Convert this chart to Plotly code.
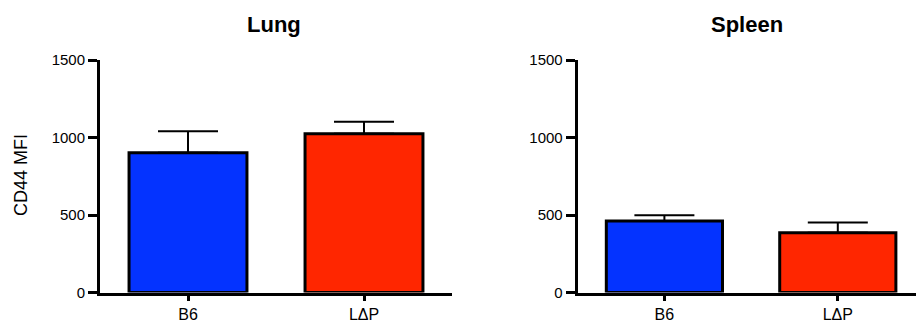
import plotly.graph_objects as go

W, H = 916, 324

categories = ["B6", "LΔP"]
lung_values = [901, 1024]
lung_sem = [139, 77]
spleen_values = [462, 385]
spleen_sem = [37, 67]
y_ticks = [0, 500, 1000, 1500]
panel_titles = ["Lung", "Spleen"]
y_title = "CD44 MFI"
colors = ["#0433FF", "#FF2600"]

FONT = "Liberation Sans, Arial, Helvetica, sans-serif"

def px_x(p):
    return p / W

def px_y(p):
    return 1 - p / H

fig = go.Figure()

for i, (vals, errs) in enumerate([(lung_values, lung_sem), (spleen_values, spleen_sem)]):
    xa = "x" if i == 0 else "x2"
    ya = "y" if i == 0 else "y2"
    fig.add_trace(go.Bar(
        x=categories, y=vals, xaxis=xa, yaxis=ya,
        width=0.67,
        marker=dict(color=colors, line=dict(color="black", width=3)),
        error_y=dict(type="data", symmetric=False, array=errs,
                     arrayminus=[0, 0], color="black", thickness=2, width=30),
        showlegend=False, hoverinfo="skip",
    ))

ydom = [px_y(292.5), px_y(60)]
axis_common = dict(showline=True, linecolor="black", linewidth=3,
                   ticks="outside", tickcolor="black", tickwidth=3,
                   showgrid=False, zeroline=False, automargin=False)

fig.update_layout(
    width=W, height=H,
    margin=dict(l=0, r=0, t=0, b=0, pad=0),
    paper_bgcolor="white", plot_bgcolor="white",
    font=dict(family=FONT, color="black"),
    bargap=0,
    xaxis=dict(domain=[px_x(100), px_x(452)], range=[-0.5, 1.5], anchor="y",
               ticklen=5, tickfont=dict(size=16), **axis_common),
    yaxis=dict(domain=ydom, range=[0, 1500], tickvals=y_ticks, anchor="x",
               ticklen=9, tickfont=dict(size=15), **axis_common),
    xaxis2=dict(domain=[px_x(577.7), 1.0], range=[-0.5, 1.451], anchor="y2",
                ticklen=5, tickfont=dict(size=16), **axis_common),
    yaxis2=dict(domain=ydom, range=[0, 1500], tickvals=y_ticks, anchor="x2",
                ticklen=9, tickfont=dict(size=15), **axis_common),
)

fig.add_annotation(text=f"<b>{panel_titles[0]}</b>", x=px_x(274), y=px_y(24),
                   xref="paper", yref="paper", showarrow=False,
                   xanchor="center", yanchor="middle", font=dict(size=22))
fig.add_annotation(text=f"<b>{panel_titles[1]}</b>", x=px_x(747), y=px_y(24),
                   xref="paper", yref="paper", showarrow=False,
                   xanchor="center", yanchor="middle", font=dict(size=22))
fig.add_annotation(text=y_title, x=px_x(21), y=px_y(175),
                   xref="paper", yref="paper", showarrow=False, textangle=-90,
                   xanchor="center", yanchor="middle", font=dict(size=18))

fig.write_html("out.html", config={"displayModeBar": False, "staticPlot": True},
               post_script="document.body.style.margin='0';")
